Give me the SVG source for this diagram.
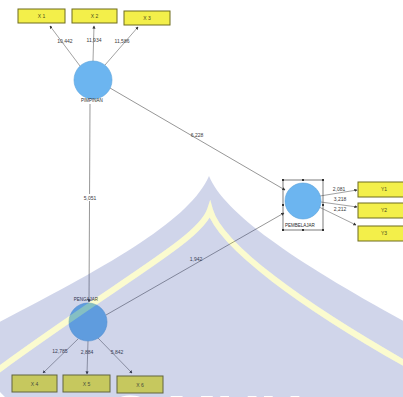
<svg xmlns="http://www.w3.org/2000/svg" width="403" height="397" viewBox="0 0 403 397">
  <style>
    .ind { fill: #f3ef4a; stroke: #6f6c1e; stroke-width: 1; }
    .lv { fill: #6cb5f0; stroke: #5aa2dc; stroke-width: 0.6; }
    .edge { stroke: #8a8a8a; stroke-width: 0.8; fill: none; marker-end: url(#tip); }
    .path { stroke: #7c7c7c; stroke-width: 0.8; fill: none; marker-end: url(#tip); }
    .t { font-family: "Liberation Sans", Arial, sans-serif; font-size: 5px; fill: #3a3a3a; text-anchor: middle; }
    .n { font-family: "Liberation Sans", Arial, sans-serif; font-size: 4.5px; fill: #2a2a2a; text-anchor: middle; }
    .bx { font-family: "Liberation Sans", Arial, sans-serif; font-size: 5px; fill: #4a4a1a; text-anchor: middle; }
    .h { fill: #333; }
  </style>
  <defs>
    <marker id="tip" viewBox="0 0 6 6" refX="5" refY="3" markerWidth="4" markerHeight="4" orient="auto">
      <path d="M0,0 L6,3 L0,6 Z" fill="#333"/>
    </marker>
    <mask id="bandCut">
      <rect x="0" y="0" width="403" height="397" fill="#fff"/>
      <path d="M-10 376 C 120 280, 200 240, 210 210 C 220 245, 300 305, 420 372" fill="none" stroke="#000" stroke-width="6"/>
    </mask>
  </defs>

  <rect x="0" y="0" width="403" height="397" fill="#fff"/>

  <!-- connectors -->
  <g id="connectors">
    <line class="edge" x1="80" y1="66" x2="50" y2="26"/>
    <line class="edge" x1="93" y1="61" x2="94" y2="26"/>
    <line class="edge" x1="105" y1="65" x2="138" y2="27"/>
    <line class="path" x1="110" y1="88" x2="285" y2="190"/>
    <line class="path" x1="106" y1="315" x2="284" y2="213"/>
    <line class="path" x1="90" y1="104" x2="89" y2="302" stroke="#555"/>
    <line class="edge" x1="78" y1="339" x2="43" y2="373"/>
    <line class="edge" x1="88" y1="341" x2="87" y2="374"/>
    <line class="edge" x1="98" y1="338" x2="132" y2="373"/>
    <line class="edge" x1="320" y1="196" x2="357" y2="190"/>
    <line class="edge" x1="321" y1="202" x2="357" y2="207"/>
    <line class="edge" x1="319" y1="207" x2="356" y2="225"/>
    <rect x="81" y="194" width="18" height="7" fill="#fff"/>
    <text class="t" x="65" y="43">10,442</text>
    <text class="t" x="94" y="42">11,934</text>
    <text class="t" x="122" y="43">11,586</text>
    <text class="t" x="197" y="137">6,228</text>
    <text class="t" x="90" y="199.5">5,051</text>
    <text class="t" x="196" y="261">1,942</text>
    <text class="t" x="60" y="353">12,785</text>
    <text class="t" x="87" y="354">2,884</text>
    <text class="t" x="117" y="354">5,842</text>
    <text class="t" x="339" y="191">2,081</text>
    <text class="t" x="340" y="201">3,218</text>
    <text class="t" x="340" y="211">2,212</text>
  </g>

  <!-- indicators -->
  <g id="x1"><rect class="ind" x="18" y="9" width="47" height="14"/><text class="bx" x="41.5" y="18">X 1</text></g>
  <g id="x2"><rect class="ind" x="72" y="9" width="45" height="14"/><text class="bx" x="94.5" y="18">X 2</text></g>
  <g id="x3"><rect class="ind" x="124" y="11" width="46" height="14"/><text class="bx" x="147" y="20">X 3</text></g>
  <g id="x4"><rect class="ind" x="12" y="375" width="45" height="17"/><text class="bx" x="34.5" y="385.5">X 4</text></g>
  <g id="x5"><rect class="ind" x="63" y="375" width="47" height="17"/><text class="bx" x="86.5" y="385.5">X 5</text></g>
  <g id="x6"><rect class="ind" x="117" y="376" width="46" height="17"/><text class="bx" x="140" y="386.5">X 6</text></g>
  <g id="y1"><rect class="ind" x="358" y="182" width="47" height="15"/><text class="bx" x="384" y="191">Y1</text></g>
  <g id="y2"><rect class="ind" x="358" y="203" width="47" height="15"/><text class="bx" x="384" y="212">Y2</text></g>
  <g id="y3"><rect class="ind" x="358" y="226" width="47" height="15"/><text class="bx" x="384" y="235">Y3</text></g>

  <!-- latent variables -->
  <g id="pimpinan">
    <circle class="lv" cx="93" cy="80" r="19"/>
    <text class="n" x="92" y="102">PIMPINAN</text>
  </g>
  <g id="pengajar">
    <circle class="lv" cx="88" cy="322" r="19"/>
    <text class="n" x="86" y="301">PENGAJAR</text>
  </g>
  <g id="pembelajar">
    <rect x="283" y="180" width="40" height="50" fill="none" stroke="#444" stroke-width="0.7"/>
    <circle class="lv" cx="303" cy="201" r="18"/>
    <text class="n" x="300" y="227">PEMBELAJAR</text>
    <rect class="h" x="282" y="179" width="2" height="2"/>
    <rect class="h" x="302" y="179" width="2" height="2"/>
    <rect class="h" x="322" y="179" width="2" height="2"/>
    <rect class="h" x="282" y="204" width="2" height="2"/>
    <rect class="h" x="322" y="204" width="2" height="2"/>
    <rect class="h" x="282" y="229" width="2" height="2"/>
    <rect class="h" x="302" y="229" width="2" height="2"/>
    <rect class="h" x="322" y="229" width="2" height="2"/>
  </g>

  <!-- translucent dome emblem laid over the drawing -->
  <g id="emblem">
    <path d="M209 176 C 225 215, 300 265, 420 330 L 420 400 L 8 400 L -10 382 L -10 327 C 110 265, 190 220, 209 176 Z"
          fill="rgb(50,75,165)" fill-opacity="0.23" mask="url(#bandCut)"/>
    <path d="M-10 376 C 120 280, 200 240, 210 210 C 220 245, 300 305, 420 372" fill="none"
          stroke="#ecec10" stroke-opacity="0.2" stroke-width="6"/>
    <text x="110" y="437" font-family="'Liberation Sans', Arial, sans-serif" font-weight="bold" font-size="60" fill="#fff">S MUH</text>
  </g>
</svg>
